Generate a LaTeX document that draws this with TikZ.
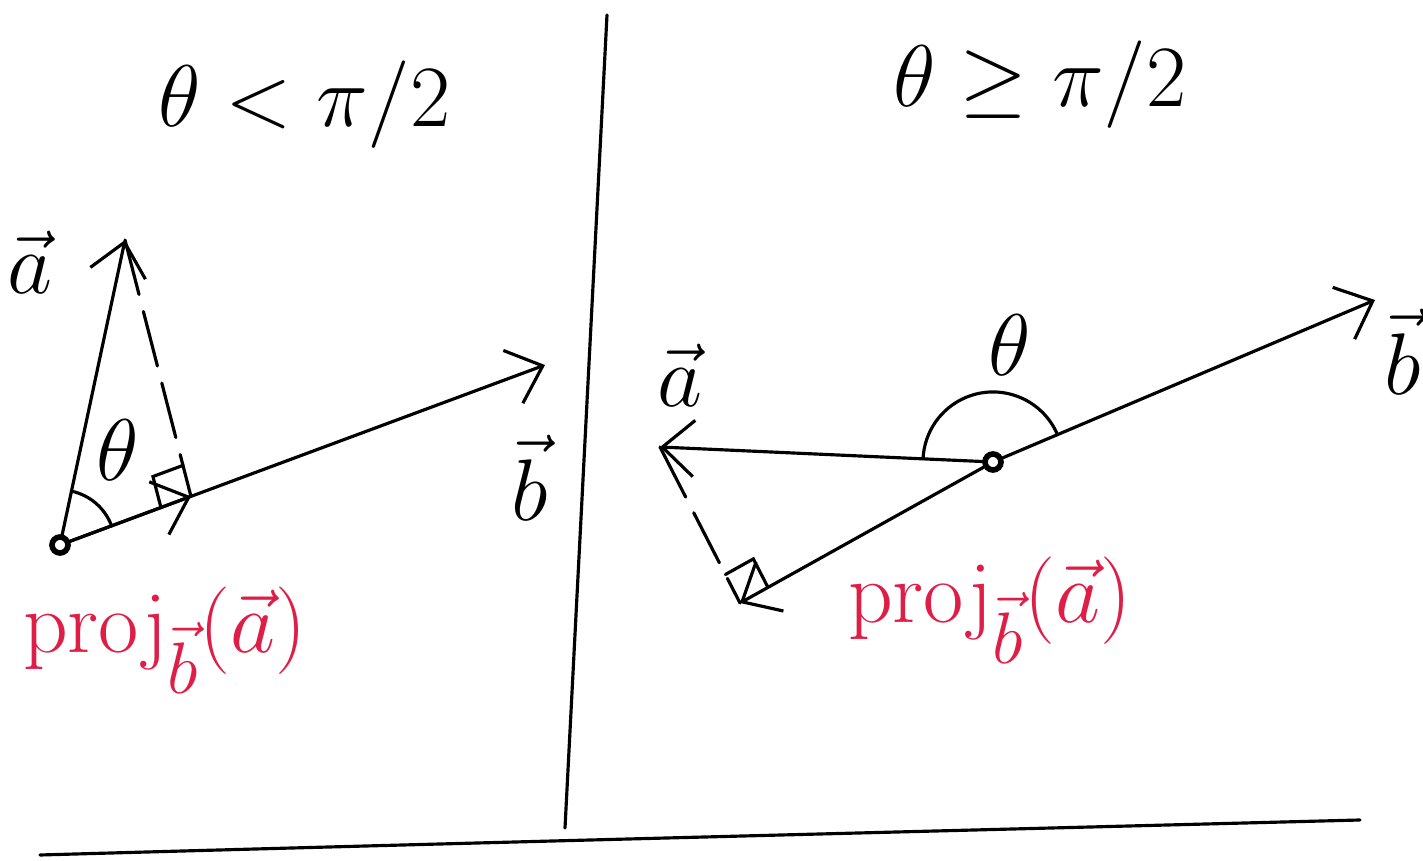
\documentclass[tikz,border=0pt]{standalone}
\usetikzlibrary{arrows.meta,calc,angles}
\definecolor{projred}{RGB}{222,30,70}
\begin{document}
\begin{tikzpicture}[x=0.01cm, y=-0.01cm, line width=0.9pt, line cap=round,
    vecline/.style={-{Straight Barb[length=9pt,width=16pt]}},
    guide/.style={dash pattern=on 16pt off 5pt},
    dot/.style={circle, draw, line width=1.6pt, inner sep=0pt, minimum size=0.16cm},
    lbl/.style={font=\fontsize{24}{28}\selectfont},
    title/.style={font=\fontsize{27}{31}\selectfont},
    projlbl/.style={text=projred, font=\fontsize{28}{32}\selectfont}]
    \useasboundingbox (0,0) rectangle (1423,861);

    % frame lines
    \draw (607,15) -- (565,828);
    \draw (40,855) .. controls (500,842) and (900,832) .. (1360,820);

    \begin{scope}
        \node[dot] (O1) at (60,545) {};
        \coordinate (A1) at (125,240);
        \coordinate (B1) at (545,365);
        \coordinate (F1) at ($(O1)!0.27!(B1)$);
        \draw[vecline] (O1) -- (A1);
        \draw[vecline] (O1) -- (B1);
        \draw[vecline] (O1) -- (F1);
        \draw[guide] (A1) -- (F1);
        \coordinate (P1) at ($(F1)!0.32cm!(O1)$);
        \coordinate (Q1) at ($(F1)!0.32cm!(A1)$);
        \draw (P1) -- ($(P1)+(Q1)-(F1)$) -- (Q1);
        \pic[draw, angle radius=0.55cm] {angle = B1--O1--A1};
        \node[lbl] (a1) at (30,262) {$\vec a$};
        \node[lbl] (b1) at (530,478) {$\vec b$};
        \node[lbl] (t1) at (118,450) {$\theta$};
        \node[title] (h1) at (305,105) {$\theta < \pi/2$};
        \node[projlbl] (p1) at (165,640) {$\mathrm{proj}_{\vec b}(\vec a)$};
    \end{scope}

    \begin{scope}
        \node[dot] (O2) at (993,462) {};
        \coordinate (A2) at (660,447);
        \coordinate (B2) at (1375,300);
        \coordinate (F2) at (740,603);
        \draw[vecline] (O2) -- (A2);
        \draw[vecline] (O2) -- (B2);
        \draw[vecline] (O2) -- (F2);
        \draw[guide] (A2) -- (F2);
        \coordinate (P2) at ($(F2)!0.32cm!(O2)$);
        \coordinate (Q2) at ($(F2)!0.32cm!(A2)$);
        \draw (P2) -- ($(P2)+(Q2)-(F2)$) -- (Q2);
        \pic[draw, angle radius=0.7cm] {angle = B2--O2--A2};
        \node[lbl] (a2) at (680,375) {$\vec a$};
        \node[lbl] (b2) at (1403,352) {$\vec b$};
        \node[lbl] (t2) at (1010,345) {$\theta$};
        \node[title] (h2) at (1040,85) {$\theta \geq \pi/2$};
        \node[projlbl] (p2) at (990,610) {$\mathrm{proj}_{\vec b}(\vec a)$};
    \end{scope}
\end{tikzpicture}
\end{document}
